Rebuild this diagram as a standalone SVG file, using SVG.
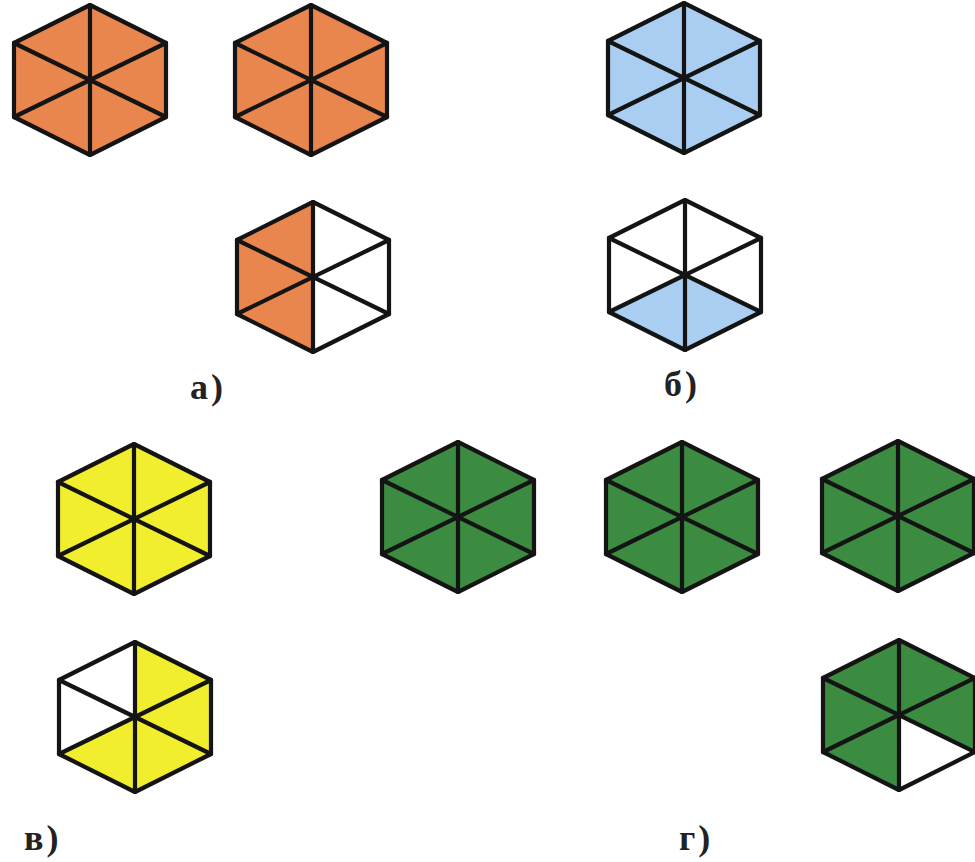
<svg xmlns="http://www.w3.org/2000/svg" xmlns:xlink="http://www.w3.org/1999/xlink" width="975" height="862" viewBox="0 0 975 862">
<style>
.o{fill:#E8864E}.b{fill:#A9CEF1}.y{fill:#F1EE2E}.g{fill:#3B8B41}.w{fill:#FFFFFF}
.fr{fill:none;stroke:#141414;stroke-width:4.2;stroke-linejoin:round;stroke-linecap:round}
.lbl{font-family:"Liberation Serif","DejaVu Serif",serif;font-weight:bold;font-size:36px;fill:#222;letter-spacing:3px}
</style>
<defs>
<path id="t1" d="M0 0L0 -75L76 -37Z"/>
<path id="t2" d="M0 0L76 -37L76 37Z"/>
<path id="t3" d="M0 0L76 37L0 75Z"/>
<path id="t4" d="M0 0L0 75L-76 37Z"/>
<path id="t5" d="M0 0L-76 37L-76 -37Z"/>
<path id="t6" d="M0 0L-76 -37L0 -75Z"/>
<g id="frame" class="fr">
<polygon points="0,-75 76,-37 76,37 0,75 -76,37 -76,-37"/>
<path d="M0 -75V75M-76 -37L76 37M-76 37L76 -37"/>
</g>
</defs>
<rect width="975" height="862" fill="#FFFFFF"/>

<g id="hex-a1" transform="translate(90,80)">
<use href="#t1" class="o"/><use href="#t2" class="o"/><use href="#t3" class="o"/><use href="#t4" class="o"/><use href="#t5" class="o"/><use href="#t6" class="o"/>
<use href="#frame"/>
</g>
<g id="hex-a2" transform="translate(311,80)">
<use href="#t1" class="o"/><use href="#t2" class="o"/><use href="#t3" class="o"/><use href="#t4" class="o"/><use href="#t5" class="o"/><use href="#t6" class="o"/>
<use href="#frame"/>
</g>
<g id="hex-a3" transform="translate(313,277)">
<use href="#t1" class="w"/><use href="#t2" class="w"/><use href="#t3" class="w"/><use href="#t4" class="o"/><use href="#t5" class="o"/><use href="#t6" class="o"/>
<use href="#frame"/>
</g>

<g id="hex-b1" transform="translate(684,78)">
<use href="#t1" class="b"/><use href="#t2" class="b"/><use href="#t3" class="b"/><use href="#t4" class="b"/><use href="#t5" class="b"/><use href="#t6" class="b"/>
<use href="#frame"/>
</g>
<g id="hex-b2" transform="translate(685,275)">
<use href="#t1" class="w"/><use href="#t2" class="w"/><use href="#t3" class="b"/><use href="#t4" class="b"/><use href="#t5" class="w"/><use href="#t6" class="w"/>
<use href="#frame"/>
</g>

<g id="hex-c1" transform="translate(134,519)">
<use href="#t1" class="y"/><use href="#t2" class="y"/><use href="#t3" class="y"/><use href="#t4" class="y"/><use href="#t5" class="y"/><use href="#t6" class="y"/>
<use href="#frame"/>
</g>
<g id="hex-c2" transform="translate(135,717)">
<use href="#t1" class="y"/><use href="#t2" class="y"/><use href="#t3" class="y"/><use href="#t4" class="y"/><use href="#t5" class="w"/><use href="#t6" class="w"/>
<use href="#frame"/>
</g>

<g id="hex-d1" transform="translate(458,517)">
<use href="#t1" class="g"/><use href="#t2" class="g"/><use href="#t3" class="g"/><use href="#t4" class="g"/><use href="#t5" class="g"/><use href="#t6" class="g"/>
<use href="#frame"/>
</g>
<g id="hex-d2" transform="translate(682,517)">
<use href="#t1" class="g"/><use href="#t2" class="g"/><use href="#t3" class="g"/><use href="#t4" class="g"/><use href="#t5" class="g"/><use href="#t6" class="g"/>
<use href="#frame"/>
</g>
<g id="hex-d3" transform="translate(898,516)">
<use href="#t1" class="g"/><use href="#t2" class="g"/><use href="#t3" class="g"/><use href="#t4" class="g"/><use href="#t5" class="g"/><use href="#t6" class="g"/>
<use href="#frame"/>
</g>
<g id="hex-d4" transform="translate(899,715)">
<use href="#t1" class="g"/><use href="#t2" class="g"/><use href="#t3" class="w"/><use href="#t4" class="g"/><use href="#t5" class="g"/><use href="#t6" class="g"/>
<use href="#frame"/>
</g>

<g id="connectors"/>

<g id="labels">
<text class="lbl" x="190" y="399">а)</text>
<text class="lbl" x="664" y="396">б)</text>
<text class="lbl" x="24" y="850">в)</text>
<text class="lbl" x="679" y="850">г)</text>
</g>
</svg>
